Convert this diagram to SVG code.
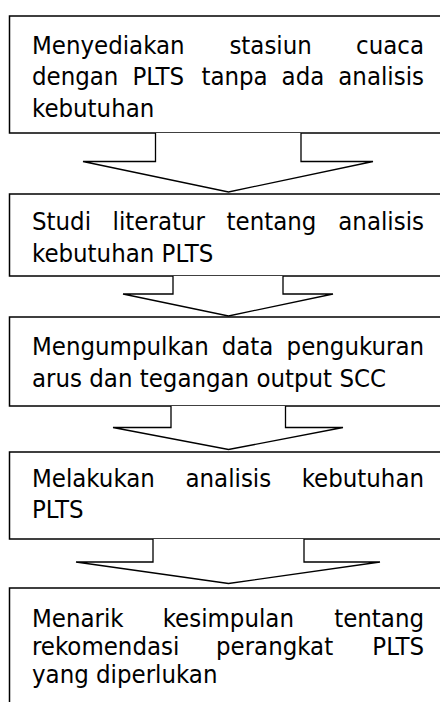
<svg xmlns="http://www.w3.org/2000/svg" width="440" height="702" viewBox="0 0 440 702">
  <style>
    .box { fill: #fff; stroke: #000; stroke-width: 1.5; }
    .arrow { fill: #fff; stroke: #000; stroke-width: 1.3; stroke-linejoin: miter; }
    .t { font-family: "DejaVu Sans Condensed", "DejaVu Sans", sans-serif; font-stretch: condensed; font-size: 25.5px; fill: #000; }
    .e { text-anchor: end; }
  </style>
  <rect x="0" y="0" width="440" height="702" fill="#fff"/>

  <g id="node1">
    <rect class="box" x="9.5" y="16" width="440" height="117"/>
    <text class="t" y="53.5"><tspan x="32">Menyediakan</tspan><tspan x="229.4">stasiun</tspan><tspan class="e" x="424">cuaca</tspan></text>
    <text class="t" y="85"><tspan x="32">dengan</tspan><tspan x="132.4">PLTS</tspan><tspan x="201.4">tanpa</tspan><tspan x="281.6">ada</tspan><tspan class="e" x="424">analisis</tspan></text>
    <text class="t" x="32" y="116.5">kebutuhan</text>
  </g>

  <g id="node2">
    <rect class="box" x="9.5" y="194" width="440" height="82"/>
    <text class="t" y="229.5"><tspan x="32">Studi</tspan><tspan x="112.6">literatur</tspan><tspan x="226.6">tentang</tspan><tspan class="e" x="424">analisis</tspan></text>
    <text class="t" x="32" y="261.5">kebutuhan PLTS</text>
  </g>

  <g id="node3">
    <rect class="box" x="9.5" y="317" width="440" height="89"/>
    <text class="t" y="355"><tspan x="32">Mengumpulkan</tspan><tspan x="221.7">data</tspan><tspan class="e" x="424">pengukuran</tspan></text>
    <text class="t" x="32" y="386.5">arus dan tegangan output SCC</text>
  </g>

  <g id="node4">
    <rect class="box" x="9.5" y="452" width="440" height="87"/>
    <text class="t" y="486.5"><tspan x="32">Melakukan</tspan><tspan x="185.5">analisis</tspan><tspan class="e" x="424">kebutuhan</tspan></text>
    <text class="t" x="32" y="518">PLTS</text>
  </g>

  <g id="node5">
    <rect class="box" x="9.5" y="588" width="440" height="140"/>
    <text class="t" y="626.5"><tspan x="32">Menarik</tspan><tspan x="162.7">kesimpulan</tspan><tspan class="e" x="424">tentang</tspan></text>
    <text class="t" y="655"><tspan x="32">rekomendasi</tspan><tspan x="216">perangkat</tspan><tspan class="e" x="424">PLTS</tspan></text>
    <text class="t" x="32" y="683">yang diperlukan</text>
  </g>

  <g id="connectors">
    <path class="arrow" d="M155.5,133 V161.5 H83 L228.5,192 L373,161.5 H301 V133"/>
    <path class="arrow" d="M173,276 V294 H123 L228.5,316 L333,294 H283 V276"/>
    <path class="arrow" d="M171,406 V427.5 H113 L228.5,449.5 L343,427.5 H285.5 V406"/>
    <path class="arrow" d="M153,539 V562 H76 L228.5,583.5 L380,562 H304 V539"/>
  </g>
</svg>
